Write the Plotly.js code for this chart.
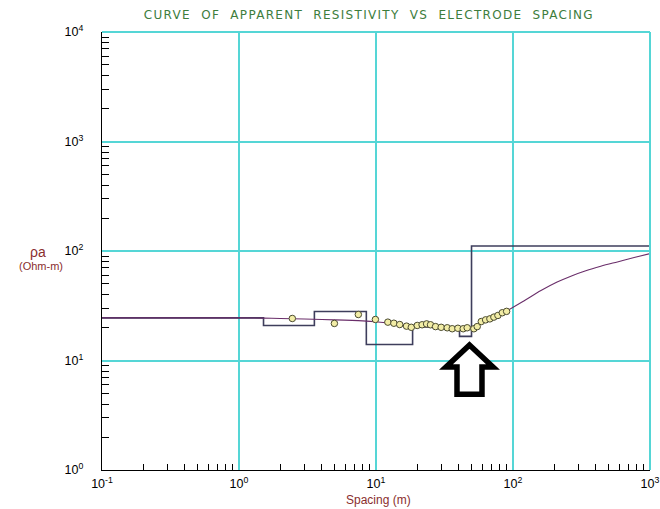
<!DOCTYPE html>
<html>
<head>
<meta charset="utf-8">
<script src="https://cdn.plot.ly/plotly-3.0.1.min.js"></script>
<style>html,body{margin:0;padding:0;background:#fff;}#chart{width:660px;height:509px;}
.gtitle{letter-spacing:1.3px;}</style>
</head>
<body>
<div id="chart"></div>
<script>
// Field data: apparent resistivity vs electrode spacing
const ptsX = [2.45, 4.97, 7.43, 9.9, 12.2, 13.5, 14.9, 16.7, 18.1, 20.0, 21.7, 23.4, 25.0, 27.2, 29.9, 33.1, 36.0, 39.6, 43.3, 46.3, 51.8, 54.8, 58.7, 63.1, 67.8, 72.5, 77.6, 83.5, 89.8];
const ptsY = [24.2, 21.8, 26.3, 23.7, 22.4, 21.9, 21.3, 20.6, 20.1, 20.9, 21.2, 21.6, 21.2, 20.4, 20.1, 19.9, 19.5, 19.7, 19.5, 19.9, 19.5, 20.4, 22.7, 23.5, 24.0, 24.9, 25.8, 27.3, 28.1];
// Calculated (theoretical) curve
const curveX = [0.1, 0.5, 1, 1.5, 2, 3, 5, 8, 10, 13, 17, 22, 30, 40, 50, 55, 60, 70, 80, 91, 120, 160, 210, 270, 340, 437, 578, 766, 1000];
const curveY = [24.5, 24.5, 24.5, 24.4, 24.2, 23.9, 23.5, 23.0, 22.6, 21.8, 21.0, 20.5, 20.1, 20.0, 20.3, 21.0, 22.3, 24.3, 26.3, 28.6, 35.0, 43.5, 52.0, 59.5, 66.0, 72.5, 79.5, 87.1, 94.7];
// Layered model (layer top depth, resistivity)
const modelX = [0.1, 1.51, 3.55, 8.5, 18.5, 40.7, 49.8, 1000];
const modelY = [24.5, 20.9, 28.0, 14.0, 20.2, 16.6, 111, 111];
// Ticks
const majorVals = [0.1, 1, 10, 100, 1000];
const xTickText = ['10<sup>-1</sup>', '10<sup>0</sup>', '10<sup>1</sup>', '10<sup>2</sup>', '10<sup>3</sup>'];
const yMajorVals = [1, 10, 100, 1000, 10000];
const yTickText = ['10<sup>0</sup>', '10<sup>1</sup>', '10<sup>2</sup>', '10<sup>3</sup>', '10<sup>4</sup>'];
const minorDigits = [2, 3, 4, 5, 6, 7, 8, 9];

function minorVals(decades) {
  const out = [];
  decades.forEach(d => minorDigits.forEach(m => out.push(d * m)));
  return out;
}

const grid = '#55D6D6';
const traces = [
  {x: modelX, y: modelY, type: 'scatter', mode: 'lines', line: {shape: 'hv', color: '#3E3E5C', width: 1.6}, hoverinfo: 'skip'},
  {x: curveX, y: curveY, type: 'scatter', mode: 'lines', line: {color: '#6A2E6A', width: 1.1, shape: 'spline'}, hoverinfo: 'skip'},
  {x: ptsX, y: ptsY, type: 'scatter', mode: 'markers', marker: {size: 6.5, color: '#F2EDA6', line: {color: '#4A4A30', width: 1}}}
];

const axisFont = {family: 'Liberation Sans, Arial, sans-serif', size: 12.5, color: '#000'};
const layout = {
  width: 660, height: 509,
  margin: {l: 102, r: 10, t: 32, b: 39},
  paper_bgcolor: '#fff', plot_bgcolor: '#fff',
  showlegend: false,
  title: {text: 'CURVE\u00A0 OF\u00A0 APPARENT\u00A0 RESISTIVITY\u00A0 VS\u00A0 ELECTRODE\u00A0 SPACING',
    font: {family: 'DejaVu Sans, sans-serif', size: 12, color: '#3D7D3D'},
    xref: 'paper', x: 0.487, xanchor: 'center', yref: 'container', y: 0.970, yanchor: 'middle'},
  xaxis: {
    type: 'log', range: [-1, 3], autorange: false,
    tickmode: 'array', tickvals: majorVals, ticktext: xTickText,
    ticks: '', showgrid: true, gridcolor: grid, gridwidth: 2,
    showline: true, linecolor: '#000', linewidth: 1.2, zeroline: false,
    tickfont: axisFont, ticklabelstandoff: 2,
    minor: {tickmode: 'array', tickvals: minorVals([0.1, 1, 10, 100]), ticks: 'inside', ticklen: 6, tickcolor: '#000', tickwidth: 1, showgrid: false}
  },
  yaxis: {
    type: 'log', range: [0, 4], autorange: false,
    tickmode: 'array', tickvals: yMajorVals, ticktext: yTickText,
    ticks: '', showgrid: true, gridcolor: grid, gridwidth: 2,
    showline: true, linecolor: '#000', linewidth: 1.2, zeroline: false,
    tickfont: axisFont, ticklabelstandoff: 15,
    minor: {tickmode: 'array', tickvals: minorVals([1, 10, 100, 1000]), ticks: 'inside', ticklen: 7, tickcolor: '#000', tickwidth: 1, showgrid: false}
  },
  shapes: [
    {type: 'line', xref: 'paper', yref: 'paper', x0: 0, x1: 1, y0: 1, y1: 1, line: {color: grid, width: 2}},
    {type: 'line', xref: 'paper', yref: 'paper', x0: 1, x1: 1, y0: 0, y1: 1, line: {color: grid, width: 2}},
    {type: 'path', xref: 'paper', yref: 'paper',
      path: 'M 0.6706 0.2854 L 0.6277 0.2352 L 0.6478 0.2352 L 0.6478 0.1728 L 0.6934 0.1728 L 0.6934 0.2352 L 0.7135 0.2352 Z',
      fillcolor: '#fff', line: {color: '#000', width: 5.5}}
  ],
  annotations: [
    {text: 'Spacing (m)', xref: 'paper', yref: 'paper', x: 0.505, y: -0.068, xanchor: 'center', yanchor: 'middle', showarrow: false,
      font: {family: 'Liberation Sans, Arial, sans-serif', size: 12, color: '#8A2E2E'}},
    {text: 'ρa', xref: 'paper', yref: 'paper', x: -0.116, y: 0.497, xanchor: 'center', yanchor: 'middle', showarrow: false,
      font: {family: 'Liberation Sans, Arial, sans-serif', size: 14, color: '#8A2E2E'}},
    {text: '(Ohm-m)', xref: 'paper', yref: 'paper', x: -0.112, y: 0.466, xanchor: 'center', yanchor: 'middle', showarrow: false,
      font: {family: 'Liberation Sans, Arial, sans-serif', size: 11, color: '#8A2E2E'}}
  ]
};

Plotly.newPlot('chart', traces, layout, {staticPlot: true, displayModeBar: false});
</script>
</body>
</html>
